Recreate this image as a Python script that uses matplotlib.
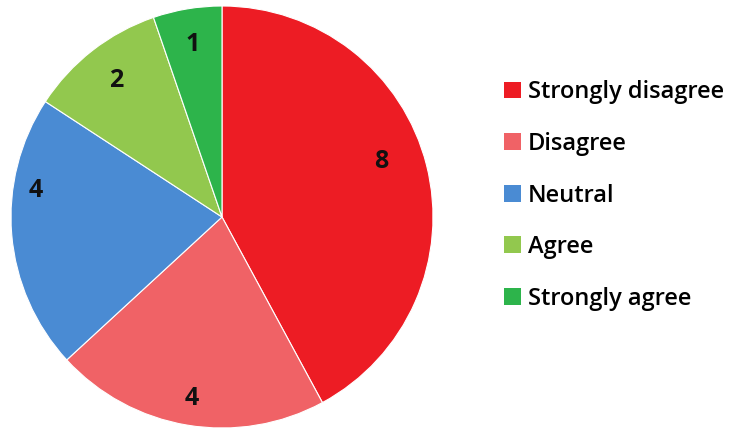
import numpy as np
import matplotlib.pyplot as plt
from matplotlib.patches import Patch

categories = ["Strongly disagree", "Disagree", "Neutral", "Agree", "Strongly agree"]
counts = [8, 4, 4, 2, 1]
colors = ["#ED1C24", "#F06266", "#4A8BD3", "#92C84E", "#2DB44B"]

# label placement tweaks (degrees shift from wedge middle, radial distance)
label_shift = [5, 0, -13, 0, 0]
label_dist = [0.80, 0.87, 0.89, 0.82, 0.83]

plt.rcParams["font.family"] = ["Open Sans", "DejaVu Sans"]

fig = plt.figure(figsize=(7.3, 4.33), dpi=100)
ax = fig.add_axes([11 / 730, 5 / 433, 422 / 730, 422 / 433])

wedges, texts, autotexts = ax.pie(
    counts,
    colors=colors,
    startangle=90,
    counterclock=False,
    autopct=lambda p: f"{round(p * sum(counts) / 100):d}",
    pctdistance=0.84,
    wedgeprops=dict(linewidth=0.8, edgecolor="white"),
    textprops=dict(fontsize=18, fontweight="bold", color="#111111"),
)
for w, t, s, d in zip(wedges, autotexts, label_shift, label_dist):
    ang = np.deg2rad((w.theta1 + w.theta2) / 2 + s)
    t.set_position((d * np.cos(ang), d * np.sin(ang)))

ax.set_xlim(-1, 1)
ax.set_ylim(-1, 1)
ax.set_aspect("equal")

handles = [Patch(facecolor=c, edgecolor="none") for c in colors]
fig.legend(
    handles,
    categories,
    loc="upper left",
    bbox_to_anchor=(483 / 730, 1 - 59 / 433),
    frameon=False,
    handlelength=0.72,
    handleheight=0.72,
    handletextpad=0.28,
    labelspacing=1.17,
    prop=dict(family="Open Sans", weight="semibold", size=17),
)

fig.savefig("out.png", dpi=100)
